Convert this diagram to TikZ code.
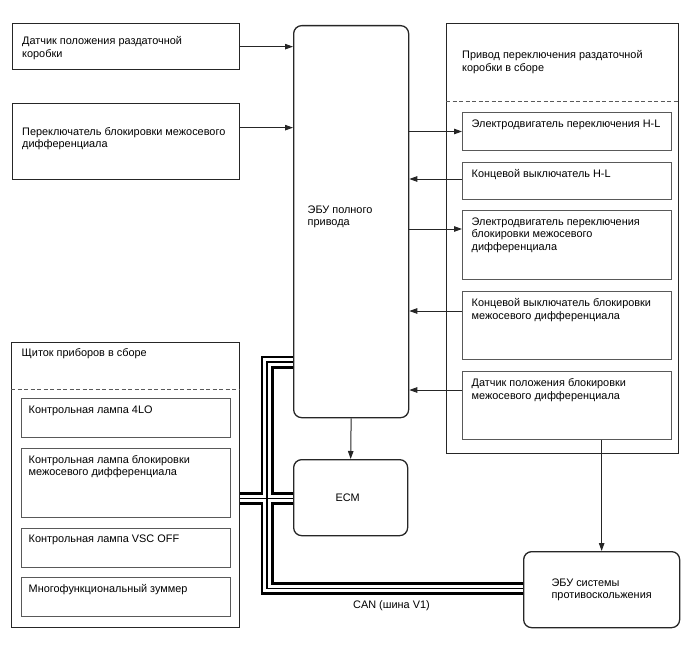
\documentclass[tikz,border=0pt]{standalone}
\usepackage{fontspec}
\setmainfont{Liberation Sans}
\usetikzlibrary{arrows.meta, positioning}

\begin{document}
\begin{tikzpicture}[x=1pt, y=-1pt, >={Triangle[length=8pt, width=5.5pt]},
    font=\fontsize{10.9}{12.6}\selectfont,
    blk/.style={draw=black!85, line width=1.3pt, anchor=north west, inner sep=0pt},
    ecubox/.style={blk, rounded corners=8pt},
    unit/.style={draw=black!65, line width=1pt, minimum width=209pt, inner sep=0pt},
    txt/.style={align=left, inner sep=0pt, anchor=north west},
    sig/.style={->, line width=1pt, draw=black!85},
    divider/.style={draw=black!65, line width=0.9pt, dash pattern=on 4pt off 2.5pt}]
    \useasboundingbox (0,0) rectangle (688,658);

    % inputs on the left
    \node[blk, minimum width=227pt, minimum height=46pt] (s1) at (12,23) {};
    \node[blk, minimum width=227pt, minimum height=76pt] (s2) at (12,103) {};
    \node[txt] (s1t) at ([shift={(10pt,-13.2pt)}]s1.north west) {Датчик положения раздаточной\\коробки};
    \node[txt] (s2t) at ([shift={(10pt,-24.2pt)}]s2.north west) {Переключатель блокировки межосевого\\дифференциала};

    % control units
    \node[ecubox, minimum width=115pt, minimum height=392pt] (ecu) at (293,25) {};
    \node[txt] (ecut) at ([shift={(14.5pt,16.1pt)}]ecu.west) {ЭБУ полного\\привода};
    \node[ecubox, minimum width=114pt, minimum height=76pt] (ecm) at (293,459) {};
    \node[inner sep=0pt] (ecmt) at ([xshift=-3pt]ecm.center) {ECM};
    \node[ecubox, minimum width=156pt, minimum height=76pt] (abs) at (523,551) {};
    \node[align=left, inner sep=0pt] (abst) at (abs.center) {ЭБУ системы\\противоскольжения};

    % transfer actuator assembly
    \node[blk, minimum width=232pt, minimum height=430pt] (act) at (446,23) {};
    \node[txt] (actt) at ([shift={(16pt,-27.5pt)}]act.north west) {Привод переключения раздаточной\\коробки в сборе};
    \node[unit, minimum height=38pt, anchor=north west] (m1) at (462,112) {};
    \node[unit, minimum height=37pt, below=11pt of m1] (m2) {};
    \node[unit, minimum height=69pt, below=10pt of m2] (m3) {};
    \node[unit, minimum height=68pt, below=11pt of m3] (m4) {};
    \node[unit, minimum height=68pt, below=11pt of m4] (m5) {};
    \draw[divider] ([yshift=11pt]m1.north -| act.west) -- ([yshift=11pt]m1.north -| act.east);
    \node[txt] (m1t) at ([shift={(9.5pt,-7.5pt)}]m1.north west) {Электродвигатель переключения H-L};
    \node[txt] (m2t) at ([shift={(9.5pt,-7.5pt)}]m2.north west) {Концевой выключатель H-L};
    \node[txt] (m3t) at ([shift={(9.5pt,-7.5pt)}]m3.north west) {Электродвигатель переключения\\блокировки межосевого\\дифференциала};
    \node[txt] (m4t) at ([shift={(9.5pt,-7.5pt)}]m4.north west) {Концевой выключатель блокировки\\межосевого дифференциала};
    \node[txt] (m5t) at ([shift={(9.5pt,-7.5pt)}]m5.north west) {Датчик положения блокировки\\межосевого дифференциала};

    % combination meter
    \node[blk, minimum width=228pt, minimum height=285pt] (cl) at (11,342) {};
    \node[txt] (clt) at ([shift={(10.5pt,-6.3pt)}]cl.north west) {Щиток приборов в сборе};
    \node[unit, minimum height=39pt, anchor=north west] (c1) at (21,398) {};
    \node[unit, minimum height=69pt, below=10pt of c1] (c2) {};
    \node[unit, minimum height=39pt, below=10pt of c2] (c3) {};
    \node[unit, minimum height=39pt, below=9pt of c3] (c4) {};
    \draw[divider] ([yshift=9pt]c1.north -| cl.west) -- ([yshift=9pt]c1.north -| cl.east);
    \node[txt] (c1t) at ([shift={(7.5pt,-7.5pt)}]c1.north west) {Контрольная лампа 4LO};
    \node[txt] (c2t) at ([shift={(7.5pt,-7pt)}]c2.north west) {Контрольная лампа блокировки\\межосевого дифференциала};
    \node[txt] (c3t) at ([shift={(7.5pt,-7pt)}]c3.north west) {Контрольная лампа VSC OFF};
    \node[txt] (c4t) at ([shift={(7.5pt,-7pt)}]c4.north west) {Многофункциональный зуммер};

    % signal lines
    \draw[sig] (s1.east) -- (s1.east -| ecu.west);
    \draw[sig] ([yshift=14pt]s2.east) -- ([yshift=14pt]s2.east -| ecu.west);
    \draw[sig] (m1.west -| ecu.east) -- (m1.west);
    \draw[sig] ([yshift=2pt]m2.west) -- ([yshift=2pt]m2.west -| ecu.east);
    \draw[sig] ([yshift=-19pt]m3.north west -| ecu.east) -- ([yshift=-19pt]m3.north west);
    \draw[sig] ([yshift=-20pt]m4.north west) -- ([yshift=-20pt]m4.north west -| ecu.east);
    \draw[sig] ([yshift=-19pt]m5.north west) -- ([yshift=-19pt]m5.north west -| ecu.east);
    \draw[sig] (ecu.south) -- (ecm.north);
    \draw[sig] (abs.north |- m5.south) -- (abs.north);

    % CAN bus
    \coordinate (busTop) at (267,362);
    \coordinate (busX) at (267,498.5);
    \coordinate (busBot) at (267,588.5);
    \foreach \w/\c in {13/black, 7.5/white, 1.2/black} {
        \draw[line width=\w pt, \c, line join=miter] (ecu.west |- busTop) -- (busTop) -- (busBot) -- (abs.west |- busBot);
        \draw[line width=\w pt, \c] (cl.east |- busX) -- (ecm.west |- busX);
    }
    \node[inner sep=0pt] (can) at (391.5,605.5) {CAN (шина V1)};
\end{tikzpicture}
\end{document}
